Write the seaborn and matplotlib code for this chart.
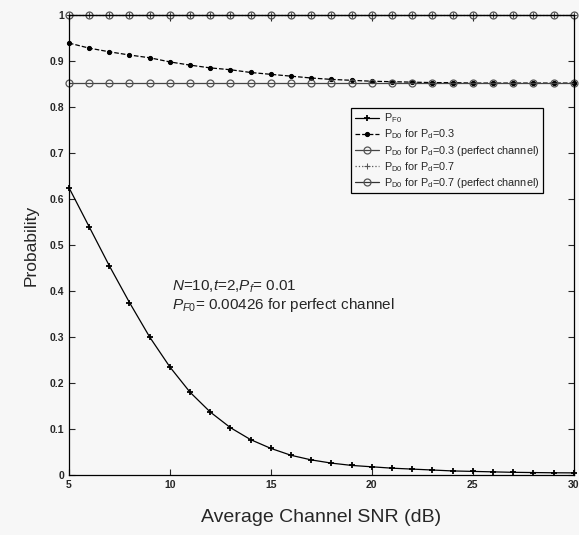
import numpy as np
import pandas as pd
import matplotlib
matplotlib.use('Agg')
import matplotlib.pyplot as plt
import seaborn as sns

# Data
snr_db = list(range(5, 31))
p_f0 = [0.625, 0.540, 0.455, 0.375, 0.300, 0.235, 0.180, 0.137, 0.103, 0.077,
        0.058, 0.043, 0.033, 0.026, 0.021, 0.018, 0.015, 0.013, 0.011, 0.009,
        0.008, 0.007, 0.006, 0.0055, 0.005, 0.0048]
p_d0_03 = [0.939, 0.928, 0.920, 0.913, 0.907, 0.898, 0.891, 0.885, 0.881, 0.875,
           0.871, 0.867, 0.863, 0.860, 0.858, 0.856, 0.855, 0.854, 0.853, 0.853,
           0.852, 0.852, 0.852, 0.852, 0.852, 0.852]
p_d0_03_perfect = [0.852] * 26
p_d0_07 = [1.0] * 26
p_d0_07_perfect = [1.0] * 26

sns.set_style('ticks')
plt.rcParams['font.family'] = ['Liberation Sans', 'DejaVu Sans']
plt.rcParams['mathtext.fontset'] = 'custom'
plt.rcParams['mathtext.rm'] = 'Liberation Sans'
plt.rcParams['mathtext.it'] = 'Liberation Sans:italic'

bg = '#f7f7f7'
fig = plt.figure(figsize=(5.79, 5.35), dpi=100, facecolor=bg)
ax = fig.add_axes([0.119, 0.112, 0.872, 0.860])
ax.set_facecolor(bg)

df = pd.DataFrame({'snr': snr_db, 'pf0': p_f0, 'pd03': p_d0_03,
                   'pd03p': p_d0_03_perfect, 'pd07': p_d0_07,
                   'pd07p': p_d0_07_perfect})

sns.lineplot(data=df, x='snr', y='pf0', ax=ax, color='black', lw=0.9,
             marker='+', markersize=5, mew=1.3, mec='black',
             label=r'P$_{\mathrm{F0}}$', clip_on=False)
sns.lineplot(data=df, x='snr', y='pd03', ax=ax, color='black', lw=0.9,
             linestyle='--', marker='o', markersize=3, mec='black', mfc='black',
             label=r'P$_{\mathrm{D0}}$ for P$_{\mathrm{d}}$=0.3', clip_on=False)
sns.lineplot(data=df, x='snr', y='pd03p', ax=ax, color='#444444', lw=0.9,
             linestyle='-', marker='o', markersize=5, mfc='none', mec='#555555',
             mew=0.9, label=r'P$_{\mathrm{D0}}$ for P$_{\mathrm{d}}$=0.3 (perfect channel)',
             clip_on=False)
sns.lineplot(data=df, x='snr', y='pd07', ax=ax, color='#555555', lw=0.9,
             linestyle=':', marker='+', markersize=4.5, mec='#555555',
             label=r'P$_{\mathrm{D0}}$ for P$_{\mathrm{d}}$=0.7', clip_on=False)
sns.lineplot(data=df, x='snr', y='pd07p', ax=ax, color='#333333', lw=0.9,
             linestyle='-', marker='o', markersize=5, mfc='none', mec='#555555',
             mew=0.9, label=r'P$_{\mathrm{D0}}$ for P$_{\mathrm{d}}$=0.7 (perfect channel)',
             clip_on=False)

ax.set_xlim(5, 30)
ax.set_ylim(0, 1)
ax.set_xticks([5, 10, 15, 20, 25, 30])
ax.set_yticks(np.arange(0, 1.01, 0.1))
ax.set_yticklabels(['0', '0.1', '0.2', '0.3', '0.4', '0.5', '0.6', '0.7',
                    '0.8', '0.9', '1'])
ax.tick_params(direction='in', length=4, width=0.8, labelsize=7.5,
               top=True, right=True)
for lbl in ax.get_xticklabels() + ax.get_yticklabels():
    lbl.set_fontweight('bold')
for s in ax.spines.values():
    s.set_linewidth(0.9)
    s.set_color('black')

ax.set_xlabel('Average Channel SNR (dB)', fontsize=14, labelpad=14)
ax.set_ylabel('Probability', fontsize=12.5, labelpad=8)

ax.text(10.1, 0.400, '$N$=10,$t$=2,$P_f$= 0.01', fontsize=11)
ax.text(10.1, 0.360, '$P_{F0}$= 0.00426 for perfect channel', fontsize=11)

leg = ax.legend(loc='upper left', bbox_to_anchor=(0.548, 0.81), fontsize=7.8,
                frameon=True, fancybox=False, edgecolor='black',
                handlelength=2.2, borderpad=0.35, labelspacing=0.2,
                handletextpad=0.5, framealpha=1)
leg.get_frame().set_facecolor(bg)
leg.get_frame().set_linewidth(0.9)

fig.savefig('out.png', dpi=100, facecolor=bg)
